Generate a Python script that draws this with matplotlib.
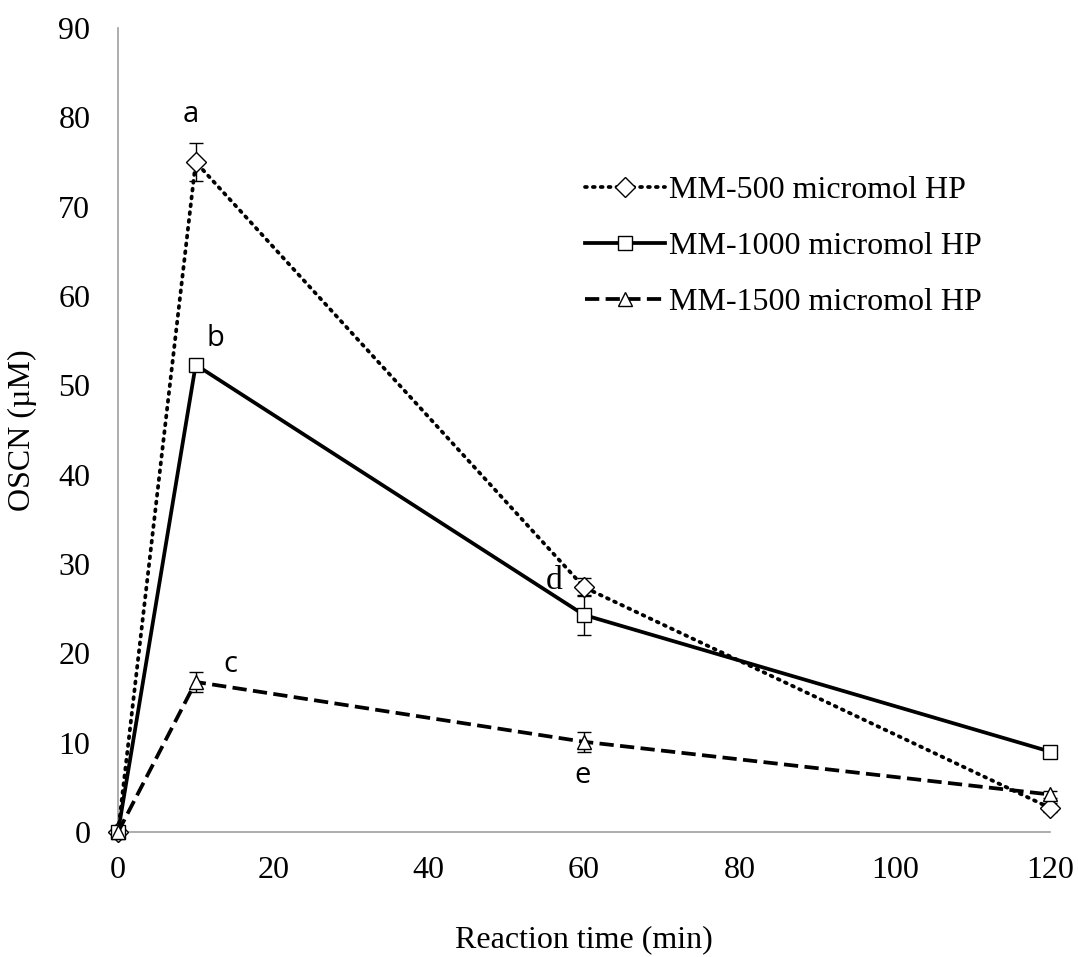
import matplotlib.pyplot as plt

# data
time = [0, 10, 60, 120]
labels = ["MM-500 micromol HP", "MM-1000 micromol HP", "MM-1500 micromol HP"]
oscn_500 = [0, 75.0, 27.4, 2.7]
err_500 = [0, 2.1, 1.0, 0.5]
oscn_1000 = [0, 52.3, 24.3, 9.0]
err_1000 = [0, 0.5, 2.2, 0.3]
oscn_1500 = [0, 16.8, 10.1, 4.2]
err_1500 = [0, 1.1, 1.1, 0.4]

# significance letters
letters = ["a", "b", "c", "d", "e"]
letter_x = [9.3, 12.6, 14.4, 56.2, 59.8]
letter_y = [80.3, 55.3, 18.8, 28.1, 6.3]

plt.rcParams["font.family"] = "Liberation Serif"

fig = plt.figure(figsize=(10.78, 9.57), dpi=100)
ax = fig.add_axes([0.1095, 0.1306, 0.8646, 0.8401])

series = [oscn_500, oscn_1000, oscn_1500]
errs = [err_500, err_1000, err_1500]
styles = [(0, (0.5, 1.6)), "-", (0, (3.8, 1.7))]
caps = ["round", "butt", "butt"]
markers = ["D", "s", "^"]
msizes = [10, 10, 10]

for y, e, ls, cs, m, ms, lab in zip(series, errs, styles, caps, markers, msizes, labels):
    eb = ax.errorbar(time, y, yerr=e, fmt="none", ecolor="black", elinewidth=1.0,
                     capsize=4.7, capthick=1.0, zorder=3)
    for art in eb.lines[1] + eb.lines[2]:
        art.set_clip_on(False)
    ax.plot(time, y, color="black", linestyle=ls, linewidth=2.7,
            dash_capstyle=cs, marker=m, markersize=ms,
            markerfacecolor="white", markeredgecolor="black",
            markeredgewidth=1.0, label=lab, zorder=4, clip_on=False)

for i, t in enumerate(letters):
    fam = "Liberation Serif" if t == "d" else "Open Sans"
    size = 24 if t == "d" else 21
    ax.text(letter_x[i], letter_y[i], t, fontsize=size, family=fam,
            ha="center", va="center")

ax.set_xlim(0, 120)
ax.set_ylim(0, 90)
ax.set_xticks(range(0, 121, 20))
ax.set_yticks(range(0, 91, 10))
ax.tick_params(length=0, labelsize=23)
ax.tick_params(axis="x", pad=17)
ax.tick_params(axis="y", pad=20)
for s in ["top", "right"]:
    ax.spines[s].set_visible(False)
for s in ["left", "bottom"]:
    ax.spines[s].set_color("#a0a0a0")
    ax.spines[s].set_linewidth(1.2)
    ax.spines[s].set_zorder(1)

ax.set_xlabel("Reaction time (min)", fontsize=23, labelpad=29)
ax.set_ylabel("OSCN (µM)", fontsize=23, labelpad=15)

ax.legend(loc="upper left", bbox_to_anchor=(0.487, 0.832), frameon=False,
          fontsize=23, handlelength=2.5, labelspacing=0.83, handletextpad=0.15,
          borderaxespad=0)

fig.savefig("out.png", dpi=100)
